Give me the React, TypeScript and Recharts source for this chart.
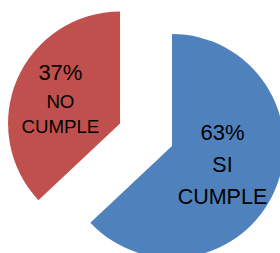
import React from "react";
import { PieChart, Pie, Cell } from "recharts";

const categories = ["SI CUMPLE", "NO CUMPLE"];
const values = [63, 37];
const colors = ["#4F81BD", "#C0504D"];

const data = categories.map((name, i) => ({ name, value: values[i] }));

const CX = 172;
const CY = 146;
const R = 112;
const EXPLODE = 56.6;

const LABEL_STYLE = [
  { dist: 55, pctSize: 22, nameSize: 21.5, lines: [-27.8, 3.9, 36.2] },
  { dist: 65, pctSize: 22, nameSize: 18.7, lines: [-17.9, 9.8, 35.4] },
];

const total = values.reduce((a, b) => a + b, 0);
const redStartFrac = values[0] / total;
const redMidFrac = redStartFrac + values[1] / total / 2;
const redMidDeg = redMidFrac * 360; // clockwise from top
const RCX = CX + Math.sin((redMidDeg * Math.PI) / 180) * EXPLODE;
const RCY = CY - Math.cos((redMidDeg * Math.PI) / 180) * EXPLODE;

const RAD = Math.PI / 180;

const makeLabel = (target: number) => (props: any) => {
  const { cx, cy, midAngle, index, percent } = props;
  if (index !== target) return null;
  const st = LABEL_STYLE[index];
  const x = cx + st.dist * Math.cos(-midAngle * RAD);
  const y = cy + st.dist * Math.sin(-midAngle * RAD);
  const parts = categories[index].split(" ");
  const font = "'Liberation Sans', Arial, sans-serif";
  return (
    <g>
      <text x={x} y={y + st.lines[0]} textAnchor="middle" fontSize={st.pctSize} fontFamily={font} fill="#000">
        {Math.round(percent * 100) + "%"}
      </text>
      <text x={x} y={y + st.lines[1]} textAnchor="middle" fontSize={st.nameSize} fontFamily={font} fill="#000">
        {parts[0]}
      </text>
      <text x={x} y={y + st.lines[2]} textAnchor="middle" fontSize={st.nameSize} fontFamily={font} fill="#000">
        {parts[1]}
      </text>
    </g>
  );
};

export default function App() {
  return (
    <div style={{ position: "absolute", left: 0, top: 0, width: 280, height: 253, background: "#fff" }}>
      <PieChart width={280} height={253} margin={{ top: 0, right: 0, bottom: 0, left: 0 }}>
        <Pie
          data={data}
          dataKey="value"
          nameKey="name"
          cx={CX}
          cy={CY}
          outerRadius={R}
          startAngle={90}
          endAngle={-270}
          isAnimationActive={false}
          labelLine={false}
          label={makeLabel(0)}
          stroke="none"
        >
          {data.map((d, i) => (
            <Cell key={i} fill={i === 0 ? colors[0] : "none"} stroke="none" />
          ))}
        </Pie>
        <Pie
          data={data}
          dataKey="value"
          nameKey="name"
          cx={RCX}
          cy={RCY}
          outerRadius={R}
          startAngle={90}
          endAngle={-270}
          isAnimationActive={false}
          labelLine={false}
          label={makeLabel(1)}
          stroke="none"
        >
          {data.map((d, i) => (
            <Cell key={i} fill={i === 1 ? colors[1] : "none"} stroke="none" />
          ))}
        </Pie>
      </PieChart>
    </div>
  );
}
